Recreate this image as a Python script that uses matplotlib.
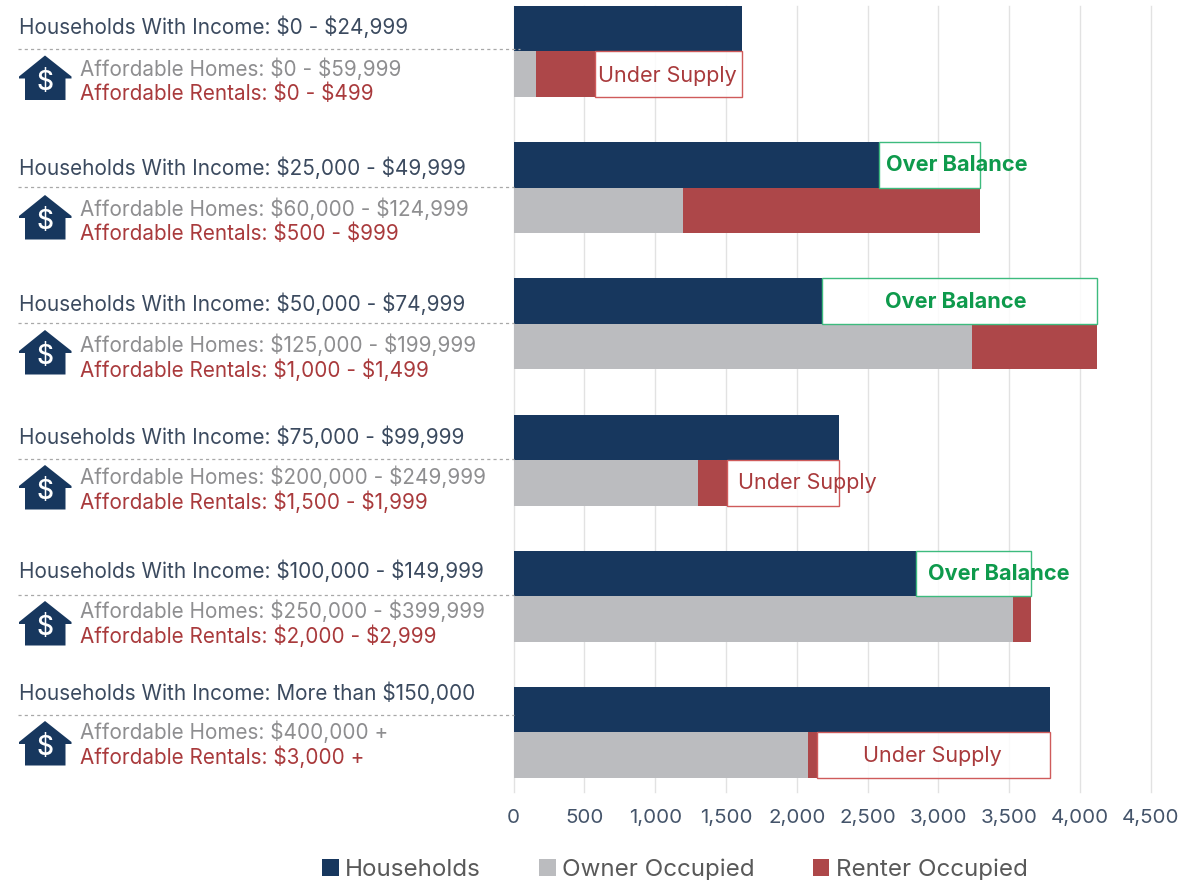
import matplotlib
matplotlib.use("Agg")
import matplotlib.pyplot as plt
from matplotlib.patches import Polygon
from matplotlib.transforms import Affine2D

plt.rcParams['font.family'] = ['Inter', 'DejaVu Sans']
plt.rcParams['text.parse_math'] = False

W, H = 1195, 880

# ---- data ----
income_labels = ["$0 - $24,999", "$25,000 - $49,999", "$50,000 - $74,999",
                 "$75,000 - $99,999", "$100,000 - $149,999", "More than $150,000"]
home_labels = ["$0 - $59,999", "$60,000 - $124,999", "$125,000 - $199,999",
               "$200,000 - $249,999", "$250,000 - $399,999", "$400,000 +"]
rental_labels = ["$0 - $499", "$500 - $999", "$1,000 - $1,499",
                 "$1,500 - $1,999", "$2,000 - $2,999", "$3,000 +"]
households = [1613, 2581, 2179, 2300, 2843, 3790]
owner = [157, 1197, 3240, 1302, 3530, 2080]
renter = [418, 2098, 882, 206, 127, 65]
status = ["Under Supply", "Over Balance", "Over Balance",
          "Under Supply", "Over Balance", "Under Supply"]
x_ticks = [0, 500, 1000, 1500, 2000, 2500, 3000, 3500, 4000, 4500]

# ---- layout (pixels) ----
title_y = [27, 167.5, 303.5, 437, 571, 693]
dash_y = [49, 187, 323, 459, 595, 715]
dash_end = [520, 514, 514, 514, 514, 514]
homes_y = [68.5, 208.5, 344.5, 477, 610.5, 731.5]
rentals_y = [93.5, 233.5, 369.5, 501.5, 635.5, 756.5]
apex_y = [55.5, 195, 330, 465, 601, 721]
status_px = [667, 957, 956, 807, 999, 932]
status_y = [76, 165, 302, 483, 574, 756]

NAVY, GREY, RED = "#17375E", "#BBBCBF", "#AD4749"
TITLE_C, HOME_C, RENT_C = "#3B4A5F", "#8E8E90", "#A93A3C"
GREEN_T, GREEN_E, RED_E = "#0E9A4C", "#3DBB7E", "#CF5B5B"

fig = plt.figure(figsize=(W / 100, H / 100), dpi=100, facecolor="white")
px = Affine2D().scale(1 / W, -1 / H).translate(0, 1) + fig.transFigure

x0, x1, top, bot = 513.7, 1150.6, 6, 792
ax = fig.add_axes([x0 / W, 1 - bot / H, (x1 - x0) / W, (bot - top) / H])
band, first = 136.2, 51.5
ax.set_ylim((bot - first) / band, (top - first) / band)
ax.set_xlim(0, 4500)
bar_h = 45.5 / band
for s in ax.spines.values():
    s.set_visible(False)
ax.set_yticks([])
ax.set_xticks(x_ticks)
ax.set_xticklabels([f"{v:,}" for v in x_ticks])
ax.tick_params(axis="x", length=0, pad=12, labelsize=14.8, labelcolor="#44546A")
ax.grid(axis="x", color="#E2E2E2", lw=1, clip_on=False)
ax.set_axisbelow(True)

for i in range(6):
    yt, yb = i - bar_h / 2, i + bar_h / 2
    total = owner[i] + renter[i]
    ax.barh(yt, households[i], height=bar_h, color=NAVY, zorder=3,
            label="Households" if i == 0 else None)
    ax.barh(yb, owner[i], height=bar_h, color=GREY, zorder=3,
            label="Owner Occupied" if i == 0 else None)
    ax.barh(yb, renter[i], left=owner[i], height=bar_h, color=RED, zorder=3,
            label="Renter Occupied" if i == 0 else None)
    over = total > households[i]
    start, end = (households[i], total) if over else (total, households[i])
    row = yt if over else yb
    ax.barh(row, end - start, left=start, height=bar_h, facecolor=(1, 1, 1, 0.85),
            edgecolor=GREEN_E if over else RED_E, lw=1, zorder=4)
    fig.text(status_px[i], status_y[i], status[i], transform=px, ha="center", va="center",
             fontsize=15.6 if over else 15.5, color=GREEN_T if over else RENT_C,
             fontweight="bold" if over else "normal", zorder=5)

    # left-hand labels
    fig.text(19, title_y[i], "Households With Income: " + income_labels[i], transform=px,
             fontsize=14.95, color=TITLE_C, va="center", ha="left")
    fig.text(80, homes_y[i], "Affordable Homes: " + home_labels[i], transform=px,
             fontsize=14.9, color=HOME_C, va="center", ha="left")
    fig.text(80, rentals_y[i], "Affordable Rentals: " + rental_labels[i], transform=px,
             fontsize=14.9, color=RENT_C, va="center", ha="left")
    fig.add_artist(plt.Line2D([18, dash_end[i]], [dash_y[i]] * 2, transform=px,
                              color="#A8A8A8", lw=0.9, ls=(0, (2.5, 2.5)), zorder=6))
    a = apex_y[i]
    fig.add_artist(Polygon([(45, a), (71.5, a + 21), (71.5, a + 23), (65.5, a + 23), (65.5, a + 44.5),
                            (25, a + 44.5), (25, a + 23), (19, a + 23), (19, a + 21)],
                           closed=True, transform=px, facecolor=NAVY, edgecolor="none"))
    fig.text(45, a + 27, "$", transform=px, color="white", fontsize=19, fontweight="medium",
             ha="center", va="center")

handles, labels = ax.get_legend_handles_labels()
fig.legend(handles, labels, ncol=3, loc="center", bbox_to_anchor=(675 / W, 1 - 870 / H),
           frameon=False, fontsize=17.4, labelcolor="#595959", handlelength=0.68, handleheight=0.68,
           handletextpad=0.27, columnspacing=2.4)

fig.savefig("out.png", dpi=100)
